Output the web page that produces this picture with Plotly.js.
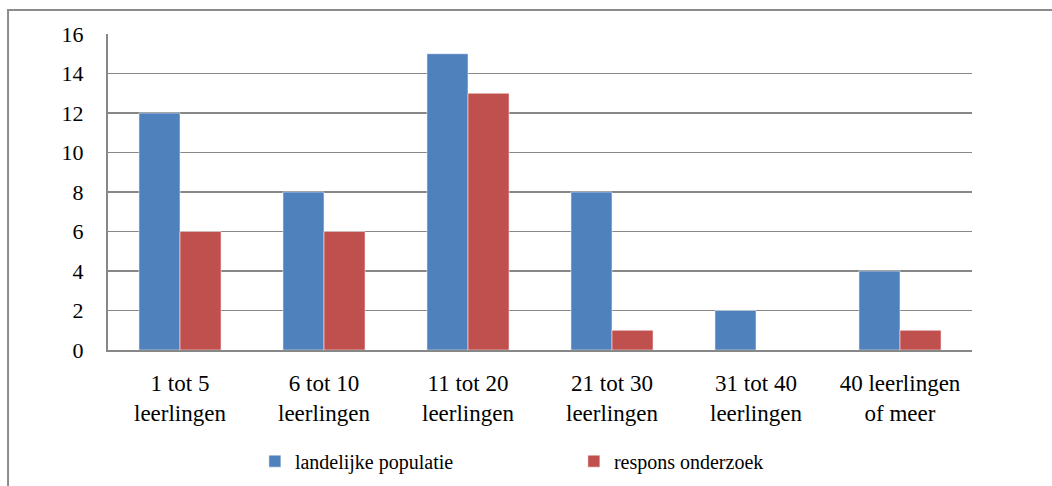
<!DOCTYPE html>
<html>
<head>
<meta charset="utf-8">
<script src="https://cdn.plot.ly/plotly-3.0.1.min.js"></script>
<style>html,body{margin:0;padding:0;background:#fff;}#chart{width:1052px;height:486px;}</style>
</head>
<body>
<div id="chart"></div>
<script>
const categories = ["1 tot 5<br>leerlingen", "6 tot 10<br>leerlingen", "11 tot 20<br>leerlingen", "21 tot 30<br>leerlingen", "31 tot 40<br>leerlingen", "40 leerlingen<br>of meer"];
const landelijkePopulatie = [12, 8, 15, 8, 2, 4];
const responsOnderzoek = [6, 6, 13, 1, 0, 1];
const seriesNames = ["landelijke populatie", "respons onderzoek"];
const yTicks = [0, 2, 4, 6, 8, 10, 12, 14, 16];

function mkFont(s) { return {family: "'Liberation Serif', 'Times New Roman', serif", size: s, color: "#000"}; }

const traces = [
  {type: "bar", name: seriesNames[0], x: categories, y: landelijkePopulatie,
   marker: {color: "#4F81BD", line: {color: "rgba(255,255,255,0.5)", width: 1}}},
  {type: "bar", name: seriesNames[1], x: categories, y: responsOnderzoek,
   marker: {color: "#C0504D", line: {color: "rgba(255,255,255,0.5)", width: 1}}}
];

const layout = {
  width: 1052, height: 486,
  margin: {l: 108, r: 80, t: 34, b: 136, autoexpand: false},
  paper_bgcolor: "#fff", plot_bgcolor: "#fff",
  font: mkFont(22),
  barmode: "group",
  bargap: 0.43, bargroupgap: 0,
  showlegend: true,
  legend: {orientation: "h", x: 0.17, xanchor: "left", y: -0.29, yanchor: "top",
           font: mkFont(20), entrywidth: 274, entrywidthmode: "pixels", traceorder: "normal"},
  xaxis: {showline: true, linecolor: "#878787", linewidth: 2, ticks: "", showgrid: false,
          tickfont: mkFont(23), ticklabelstandoff: 11, fixedrange: true, automargin: false},
  yaxis: {range: [0, 16], tickvals: yTicks, showline: true, linecolor: "#878787", linewidth: 2,
          gridcolor: "#878787", gridwidth: 1.5, zeroline: false, ticks: "",
          tickfont: mkFont(22), ticklabelstandoff: 18, fixedrange: true, automargin: false},
  shapes: [{type: "rect", xref: "paper", yref: "paper", x0: -0.1157, x1: 1.3, y0: 1.0759, y1: -0.6,
            line: {color: "#8c8c8c", width: 2}, fillcolor: "rgba(0,0,0,0)", layer: "below"}]
};

Plotly.newPlot("chart", traces, layout, {displayModeBar: false, staticPlot: true});
</script>
</body>
</html>
